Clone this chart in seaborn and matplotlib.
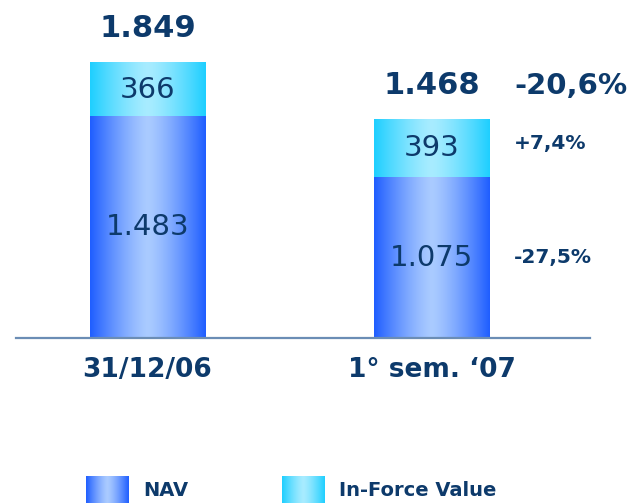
import numpy as np
import pandas as pd
import matplotlib
matplotlib.use("Agg")
import matplotlib.pyplot as plt
import seaborn as sns
from matplotlib.colors import LinearSegmentedColormap

# data
categories = ["31/12/06", "1° sem. \u201807"]
nav = [1483, 1075]
ifv = [366, 393]
totals = ["1.849", "1.468"]
nav_labels = ["1.483", "1.075"]
ifv_labels = ["366", "393"]
change_total = "-20,6%"
change_ifv = "+7,4%"
change_nav = "-27,5%"

TEXT = "#0D3A6B"
NAV_EDGE, NAV_MID = "#1F5EFF", "#AACBFF"
IFV_EDGE, IFV_MID = "#1ECFFF", "#A8ECFF"

sns.set_style("white")
plt.rcParams["font.family"] = ["DejaVu Sans"]

df = pd.DataFrame({"cat": categories, "nav": nav,
                   "total": [a + b for a, b in zip(nav, ifv)]})

fig = plt.figure(figsize=(6.37, 5.03), dpi=100)
ax = fig.add_axes([16 / 637, 165 / 503, 574 / 637, 328 / 503])

# total bars first (IFV on top), then NAV over them
sns.barplot(data=df, x="cat", y="total", color=IFV_EDGE, width=0.405, ax=ax)
sns.barplot(data=df, x="cat", y="nav", color=NAV_EDGE, width=0.405, ax=ax)

# horizontal gradient: saturated at the edges, light in the middle
xs = np.linspace(0, 1, 256)
d = np.abs(xs - 0.5) * 2
grad = np.vstack([1 - d ** 1.3] * 2)
n = len(categories)
ifv_cmap = LinearSegmentedColormap.from_list("i", [IFV_EDGE, IFV_MID])
nav_cmap = LinearSegmentedColormap.from_list("n", [NAV_EDGE, NAV_MID])

for i, p in enumerate(ax.patches):
    cmap = ifv_cmap if i < n else nav_cmap
    x0, y0 = p.get_x(), p.get_y()
    w, h = p.get_width(), p.get_height()
    if i < n:
        # upper segment only
        y0 = nav[i]
        h = h - nav[i]
    ax.imshow(grad, cmap=cmap, aspect="auto", interpolation="bicubic",
              extent=[x0, x0 + w, y0, y0 + h], zorder=2, vmin=0, vmax=1)
    p.set_visible(False)

ax.set_xlim(-0.463, 1.558)
ax.set_ylim(0, 2200)

for i in range(n):
    tot = nav[i] + ifv[i]
    ax.text(i, tot + 130, totals[i], ha="center", va="bottom", fontsize=22,
            fontweight="bold", color=TEXT)
    ax.text(i, nav[i] + ifv[i] / 2, ifv_labels[i], ha="center", va="center",
            fontsize=21, color=TEXT, zorder=3)
    ax.text(i, nav[i] / 2, nav_labels[i], ha="center", va="center",
            fontsize=21, color=TEXT, zorder=3)

x_pct = 1 + 0.29
ax.text(x_pct, nav[1] + ifv[1] + 130, change_total, ha="left", va="bottom",
        fontsize=21, fontweight="bold", color=TEXT)
ax.text(x_pct, nav[1] + ifv[1] / 2 + 30, change_ifv, ha="left", va="center",
        fontsize=14.5, fontweight="bold", color=TEXT)
ax.text(x_pct, nav[1] / 2, change_nav, ha="left", va="center",
        fontsize=14.5, fontweight="bold", color=TEXT)

sns.despine(ax=ax, left=True, top=True, right=True)
ax.spines["bottom"].set_color("#6B8DB5")
ax.spines["bottom"].set_linewidth(1.6)
ax.set_yticks([])
ax.set_xlabel("")
ax.set_ylabel("")
ax.tick_params(axis="x", length=0, pad=14)
for lab in ax.get_xticklabels():
    lab.set_fontsize(19)
    lab.set_fontweight("bold")
    lab.set_color(TEXT)

# legend with gradient swatches
for (x, name, cmap) in [(86, "NAV", nav_cmap), (282, "In-Force Value", ifv_cmap)]:
    sw = fig.add_axes([x / 637, 0, 43 / 637, 27 / 503])
    sw.imshow(grad, cmap=cmap, aspect="auto", interpolation="bicubic",
              vmin=0, vmax=1)
    sw.set_axis_off()
    fig.text((x + 57) / 637, 12 / 503, name, ha="left", va="center",
             fontsize=14, fontweight="bold", color=TEXT)

fig.savefig("out.png", dpi=100)
